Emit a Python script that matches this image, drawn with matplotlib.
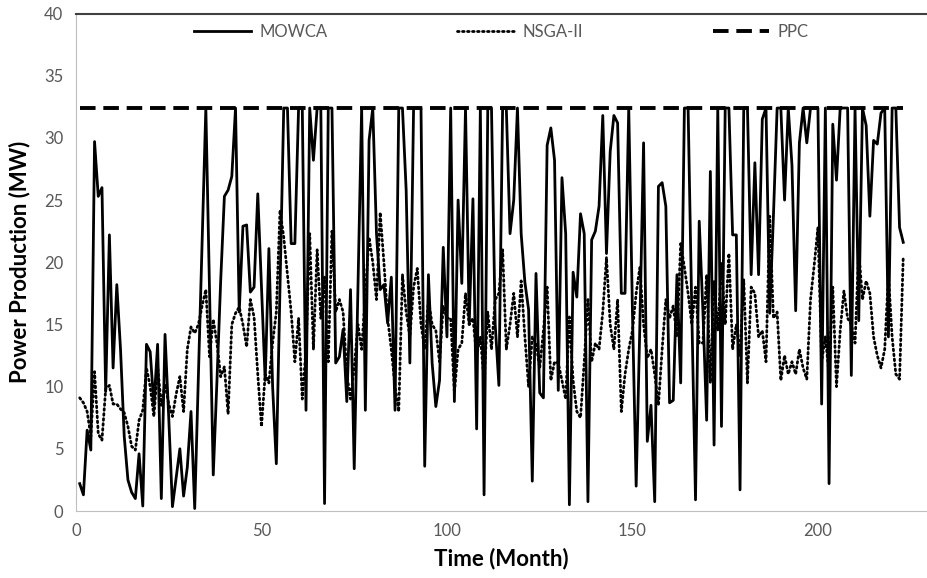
import matplotlib
matplotlib.use("Agg")
import matplotlib.pyplot as plt

# months 1..223
mowca = [2.2, 1.3, 6.5, 4.9, 29.7, 25.3, 26.0, 9.6, 22.2, 11.5,
         18.2, 13.0, 6.0, 2.5, 1.5, 1.0, 4.6, 0.4, 13.4, 12.8,
         8.5, 13.4, 1.0, 14.2, 7.5, 0.35, 2.7, 5.0, 1.2, 3.5,
         8.0, 0.2, 11.0, 21.7, 32.4, 17.6, 2.9, 10.5, 18.5, 25.3,
         25.8, 26.9, 32.4, 16.0, 22.9, 23.0, 17.6, 18.0, 25.5, 18.0,
         10.5, 21.1, 10.0, 3.8, 18.0, 32.4, 32.4, 21.5, 21.5, 32.4,
         32.4, 8.1, 32.4, 28.2, 32.4, 32.4, 0.6, 32.4, 32.4, 11.9,
         12.4, 14.6, 8.8, 17.8, 3.4, 18.0, 32.4, 8.1, 29.8, 32.4,
         22.3, 17.8, 18.2, 15.1, 18.8, 8.1, 32.4, 32.4, 25.8, 11.9,
         32.4, 32.4, 32.4, 3.6, 19.0, 11.9, 8.4, 10.5, 21.2, 14.0,
         32.4, 8.8, 25.0, 18.3, 32.4, 15.0, 25.1, 6.6, 32.4, 1.3,
         32.4, 32.4, 15.0, 10.1, 32.4, 32.4, 22.3, 25.0, 32.4, 22.3,
         18.4, 16.2, 2.4, 19.1, 9.5, 9.1, 29.4, 30.8, 28.2, 9.7,
         26.8, 22.3, 0.5, 19.2, 17.2, 23.9, 22.3, 0.75, 21.8, 22.5,
         24.5, 31.8, 20.7, 28.9, 31.8, 31.2, 17.5, 17.5, 32.4, 16.0,
         2.0, 15.0, 29.6, 5.6, 8.5, 0.75, 26.1, 26.4, 24.5, 8.7,
         8.9, 19.0, 10.3, 32.4, 32.4, 16.0, 0.9, 23.3, 16.0, 7.3,
         27.3, 5.3, 32.4, 6.8, 32.4, 32.4, 22.2, 22.2, 1.7, 32.4,
         32.4, 19.0, 28.0, 19.0, 31.5, 32.4, 15.9, 23.7, 32.4, 32.4,
         25.0, 32.4, 27.8, 16.1, 29.6, 32.4, 29.6, 32.4, 32.4, 32.4,
         8.6, 32.4, 2.2, 31.1, 26.6, 32.4, 32.4, 32.4, 10.9, 32.4,
         15.3, 32.4, 31.0, 23.7, 29.8, 29.5, 32.0, 32.4, 14.0, 32.4,
         32.4, 22.8, 21.6]

nsga = [9.1, 8.7, 8.0, 6.0, 11.2, 6.2, 5.7, 9.8, 10.1, 8.6,
        8.6, 8.2, 7.9, 6.8, 5.2, 4.9, 7.3, 8.1, 11.5, 10.0,
        7.6, 11.6, 8.5, 10.2, 8.6, 7.6, 9.4, 10.8, 8.0, 13.0,
        14.8, 14.3, 15.0, 16.5, 17.8, 12.4, 15.4, 13.5, 10.8, 11.6,
        7.8, 15.0, 15.9, 16.4, 15.0, 13.2, 17.0, 15.6, 11.0, 6.8,
        11.0, 10.3, 13.5, 16.0, 24.2, 22.0, 19.0, 16.0, 12.0, 15.5,
        9.0, 13.0, 22.3, 13.0, 21.0, 15.5, 18.8, 12.0, 22.5, 16.0,
        17.0, 16.0, 11.0, 9.0, 11.5, 15.0, 13.0, 17.5, 22.0, 20.0,
        17.0, 24.0, 20.0, 15.5, 13.0, 10.0, 8.0, 19.0, 16.0, 14.0,
        18.0, 19.5, 15.0, 13.0, 17.0, 15.0, 14.5, 12.0, 16.5, 15.5,
        15.5, 9.5, 13.0, 13.5, 17.5, 15.0, 15.5, 12.5, 14.0, 10.5,
        16.0, 13.0, 17.0, 17.5, 21.0, 13.0, 15.0, 17.5, 14.0, 18.5,
        14.0, 10.0, 14.0, 13.5, 11.5, 14.5, 18.0, 10.5, 12.0, 11.9,
        10.5, 9.0, 15.6, 10.5, 8.0, 7.5, 12.0, 17.0, 12.0, 13.5,
        13.0, 16.0, 20.4, 15.0, 13.0, 17.0, 8.0, 11.0, 13.0, 14.5,
        17.5, 19.6, 15.0, 12.3, 13.0, 11.0, 8.5, 13.0, 17.0, 15.5,
        16.5, 14.0, 21.5, 19.6, 17.5, 15.0, 18.0, 13.5, 13.5, 19.0,
        10.3, 18.5, 14.5, 19.9, 15.0, 20.7, 13.0, 15.0, 12.5, 18.6,
        10.3, 18.0, 17.5, 14.0, 14.5, 12.0, 23.7, 15.5, 16.0, 10.5,
        12.5, 11.0, 12.0, 11.0, 13.0, 11.5, 10.6, 17.0, 19.8, 22.8,
        12.0, 14.0, 11.0, 18.0, 10.0, 14.5, 17.7, 15.5, 15.0, 13.5,
        21.0, 17.0, 18.5, 17.5, 14.0, 12.5, 11.5, 13.0, 19.0, 14.0,
        11.0, 10.6, 20.5]

months = list(range(1, len(mowca) + 1))
ppc_value = 32.4
ppc = [ppc_value] * len(months)

fig = plt.figure(figsize=(9.27, 5.78), dpi=100)
ax = fig.add_axes([76 / 927, 67 / 578, 1 - 76 / 927, (511 - 13.5) / 578])

ax.plot(months, mowca, color="black", linewidth=2.0, label="MOWCA")
ax.plot(months, nsga, color="black", linewidth=2.0,
        linestyle=(0, (0.6, 1.2)), dash_capstyle="round", label="NSGA-II")
ax.plot(months, ppc, color="black", linewidth=2.8,
        linestyle=(0, (4, 2)), label="PPC")

ax.set_xlim(0, 229.4)
ax.set_ylim(0, 40)
ax.set_xticks([0, 50, 100, 150, 200])
ax.set_yticks(range(0, 41, 5))
ax.tick_params(length=0, labelsize=12, labelcolor="#595959", pad=9)
for lab in ax.get_xticklabels() + ax.get_yticklabels():
    lab.set_family("Lato")

ax.spines["right"].set_visible(False)
ax.spines["left"].set_color("#BFBFBF")
ax.spines["bottom"].set_color("#BFBFBF")
ax.spines["top"].set_color("#404040")
ax.spines["top"].set_linewidth(1.5)

ax.set_xlabel("Time (Month)", fontsize=16, fontweight="bold",
              family="Lato", labelpad=6)
ax.set_ylabel("Power Production (MW)", fontsize=16, fontweight="bold",
              family="Lato", labelpad=10)

leg = ax.legend(loc="upper center", ncol=3, frameon=False,
                bbox_to_anchor=(0.5, 1.01), handlelength=3.4,
                handletextpad=0.5, columnspacing=7.8,
                prop={"family": "Lato", "size": 12})
for t in leg.get_texts():
    t.set_color("#595959")

fig.savefig("out.png", dpi=100)
